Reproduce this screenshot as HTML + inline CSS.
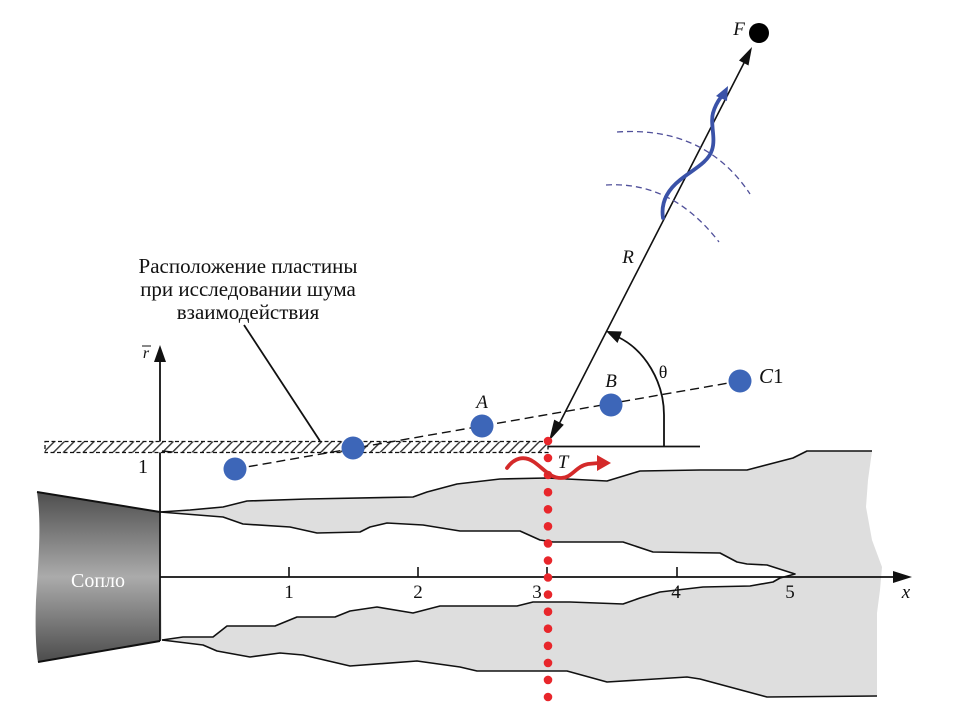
<!DOCTYPE html>
<html><head><meta charset="utf-8"><style>
html,body{margin:0;padding:0;background:#fff;}
svg{display:block;}
text{font-family:"Liberation Serif","DejaVu Serif",serif;}
</style></head><body>
<svg width="954" height="724" viewBox="0 0 954 724" xmlns="http://www.w3.org/2000/svg">
<defs>
<linearGradient id="noz" x1="0" y1="0" x2="0" y2="1">
<stop offset="0" stop-color="#4e4e4e"/>
<stop offset="0.5" stop-color="#ababab"/>
<stop offset="1" stop-color="#4c4c4c"/>
</linearGradient>
<pattern id="hatch" patternUnits="userSpaceOnUse" width="7" height="7" patternTransform="rotate(45)">
<rect width="7" height="7" fill="#fff"/>
<line x1="0" y1="0" x2="0" y2="7" stroke="#333" stroke-width="2.8"/>
</pattern>
</defs>

<!-- jet gray region -->
<path d="M160,512 L190,510 L223,507 L247,501 L307,499 L413,497 L427,492 L457,484 L500,479 L547,478 L607,481 L640,471 L700,470 L747,470 L793,458 L807,451 L872,451 L868,480 L866,507 L872,540 L882,567 L880,590 L877,613 L877,696 L767,697 L700,679 L687,677 L607,682 L567,671 L477,671 L460,667 L417,661 L350,666 L303,655 L280,653 L250,657 L217,651 L203,645 L162,640 L160,641 Z" fill="#dedede"/>
<!-- core white -->
<path d="M160,512 L223,517 L243,524 L290,527 L317,533 L360,532 L370,527 L387,523 L423,525 L460,531 L520,531 L540,540 L553,542 L623,542 L653,552 L720,553 L737,562 L747,564 L767,565 L795,574 L780,578 L773,582 L750,586 L703,587 L660,592 L640,598 L623,604 L570,602 L533,602 L517,606 L440,606 L413,613 L377,607 L350,611 L335,617 L297,617 L275,626 L227,626 L213,637 L183,637 L162,640 Z" fill="#fff"/>
<g fill="none" stroke="#111" stroke-width="1.6" stroke-linejoin="round">
<path d="M160,512 L190,510 L223,507 L247,501 L307,499 L413,497 L427,492 L457,484 L500,479 L547,478 L607,481 L640,471 L700,470 L747,470 L793,458 L807,451 L872,451"/>
<path d="M162,640 L203,645 L217,651 L250,657 L280,653 L303,655 L350,666 L417,661 L460,667 L477,671 L567,671 L607,682 L687,677 L700,679 L767,697 L877,696"/>
<path d="M160,512 L223,517 L243,524 L290,527 L317,533 L360,532 L370,527 L387,523 L423,525 L460,531 L520,531 L540,540 L553,542 L623,542 L653,552 L720,553 L737,562 L747,564 L767,565 L795,574 L780,578 L773,582 L750,586 L703,587 L660,592 L640,598 L623,604 L570,602 L533,602 L517,606 L440,606 L413,613 L377,607 L350,611 L335,617 L297,617 L275,626 L227,626 L213,637 L183,637 L162,640"/>
</g>

<!-- nozzle -->
<path d="M37,492 L160,512 L160,641 L38,662 C36,650 35,630 36,600 C38,565 42,525 37,492 Z" fill="url(#noz)"/>
<path d="M37,492 L160,512 M160,641 L38,662" stroke="#111" stroke-width="2" fill="none"/>
<text x="98" y="587" font-size="20" fill="#fff" text-anchor="middle">Сопло</text>

<!-- axes -->
<line x1="160" y1="360" x2="160" y2="641" stroke="#111" stroke-width="1.8"/>
<polygon points="160,345 154,362 166,362" fill="#111"/>
<line x1="160" y1="577" x2="895" y2="577" stroke="#111" stroke-width="1.8"/>
<polygon points="912,577 893,571 893,583" fill="#111"/>
<g stroke="#111" stroke-width="1.6">
<line x1="289" y1="567" x2="289" y2="577"/>
<line x1="418" y1="567" x2="418" y2="577"/>
<line x1="547" y1="567" x2="547" y2="577"/>
<line x1="677" y1="567" x2="677" y2="577"/>
</g>
<g font-size="19" fill="#111" text-anchor="middle">
<text x="289" y="598">1</text>
<text x="418" y="598">2</text>
<text x="537" y="598">3</text>
<text x="676" y="598">4</text>
<text x="790" y="598">5</text>
<text x="906" y="598" font-style="italic">x</text>
<text x="143" y="473" font-size="20">1</text>
</g>
<text x="146" y="358" font-size="16" font-style="italic" text-anchor="middle" fill="#111">r</text>
<line x1="142" y1="346" x2="151" y2="346" stroke="#111" stroke-width="1"/>

<!-- plate -->
<rect x="45" y="441.5" width="503" height="11" fill="url(#hatch)" stroke="#111" stroke-width="1.3" stroke-dasharray="4 2.5"/>
<line x1="548" y1="446.5" x2="700" y2="446.5" stroke="#111" stroke-width="1.8"/>
<line x1="162" y1="451" x2="172" y2="452" stroke="#111" stroke-width="1.5"/>

<!-- leader and label -->
<line x1="244" y1="325" x2="320" y2="441" stroke="#111" stroke-width="1.8"/>
<g font-size="21" fill="#111" text-anchor="middle">
<text x="248" y="273">Расположение пластины</text>
<text x="248" y="296">при исследовании шума</text>
<text x="248" y="319">взаимодействия</text>
</g>

<!-- dashed line through points -->
<line x1="235" y1="469" x2="740" y2="381" stroke="#111" stroke-width="1.4" stroke-dasharray="9 5"/>
<g fill="#3d66b8">
<circle cx="235" cy="469" r="11.5"/>
<circle cx="353" cy="448" r="11.5"/>
<circle cx="482" cy="426" r="11.5"/>
<circle cx="611" cy="405" r="11.5"/>
<circle cx="740" cy="381" r="11.5"/>
</g>
<g font-size="19" fill="#111" font-style="italic" text-anchor="middle">
<text x="482" y="408">A</text>
<text x="611" y="387">B</text>
<text x="563" y="468">T</text>
<text x="628" y="263">R</text>
<text x="739" y="35">F</text>
</g>
<text x="759" y="383" font-size="21" fill="#111"><tspan font-style="italic">C</tspan>1</text>
<text x="663" y="378" font-size="18" fill="#111" text-anchor="middle">θ</text>

<!-- theta arc -->
<path d="M664,446 L664,415 C664,382 645,350 618,337" fill="none" stroke="#111" stroke-width="1.8"/>
<polygon points="606,331 622,331.5 617.5,343" fill="#111"/>

<!-- R line -->
<line x1="556" y1="430" x2="746" y2="59" stroke="#111" stroke-width="1.6"/>
<polygon points="752,47 748.5,65.5 739,60.5" fill="#111"/>
<polygon points="549,441 563.8,424.8 554.2,419.6" fill="#111"/>
<circle cx="759" cy="33" r="10" fill="#000"/>

<!-- dashed wavefronts -->
<path d="M617,132 Q705,126 750,194" fill="none" stroke="#50509a" stroke-width="1.3" stroke-dasharray="6 4"/>
<path d="M606,185 Q672,181 719,242" fill="none" stroke="#50509a" stroke-width="1.3" stroke-dasharray="6 4"/>

<!-- blue wave -->
<path d="M663,218 C661,205 665,192 680,180 C692,170 708,163 712,150 C716,138 710,124 713,113 C715,106 718,101 721,97" fill="none" stroke="#3a52a8" stroke-width="3.8" stroke-linecap="round"/>
<polygon points="728,86 727,101 716,96" fill="#3a52a8"/>

<!-- red dots -->
<g fill="#e8262b">
<circle cx="548" cy="441" r="4.3"/>
<circle cx="548" cy="458" r="4.3"/>
<circle cx="548" cy="475" r="4.3"/>
<circle cx="548" cy="492.2" r="4.3"/>
<circle cx="548" cy="509.3" r="4.3"/>
<circle cx="548" cy="526.3" r="4.3"/>
<circle cx="548" cy="543.4" r="4.3"/>
<circle cx="548" cy="560.5" r="4.3"/>
<circle cx="548" cy="577.5" r="4.3"/>
<circle cx="548" cy="594.6" r="4.3"/>
<circle cx="548" cy="611.7" r="4.3"/>
<circle cx="548" cy="628.7" r="4.3"/>
<circle cx="548" cy="645.8" r="4.3"/>
<circle cx="548" cy="662.9" r="4.3"/>
<circle cx="548" cy="679.9" r="4.3"/>
<circle cx="548" cy="697" r="4.3"/>
</g>

<!-- red wave arrow -->
<path d="M507,468 C514,458 524,455 534,462 C544,469 550,478 561,478 C572,478 576,466 588,464 L599,463" fill="none" stroke="#d42a2a" stroke-width="3.8" stroke-linecap="round"/>
<polygon points="611,463 597,455 597,471" fill="#d42a2a"/>
</svg>
</body></html>
